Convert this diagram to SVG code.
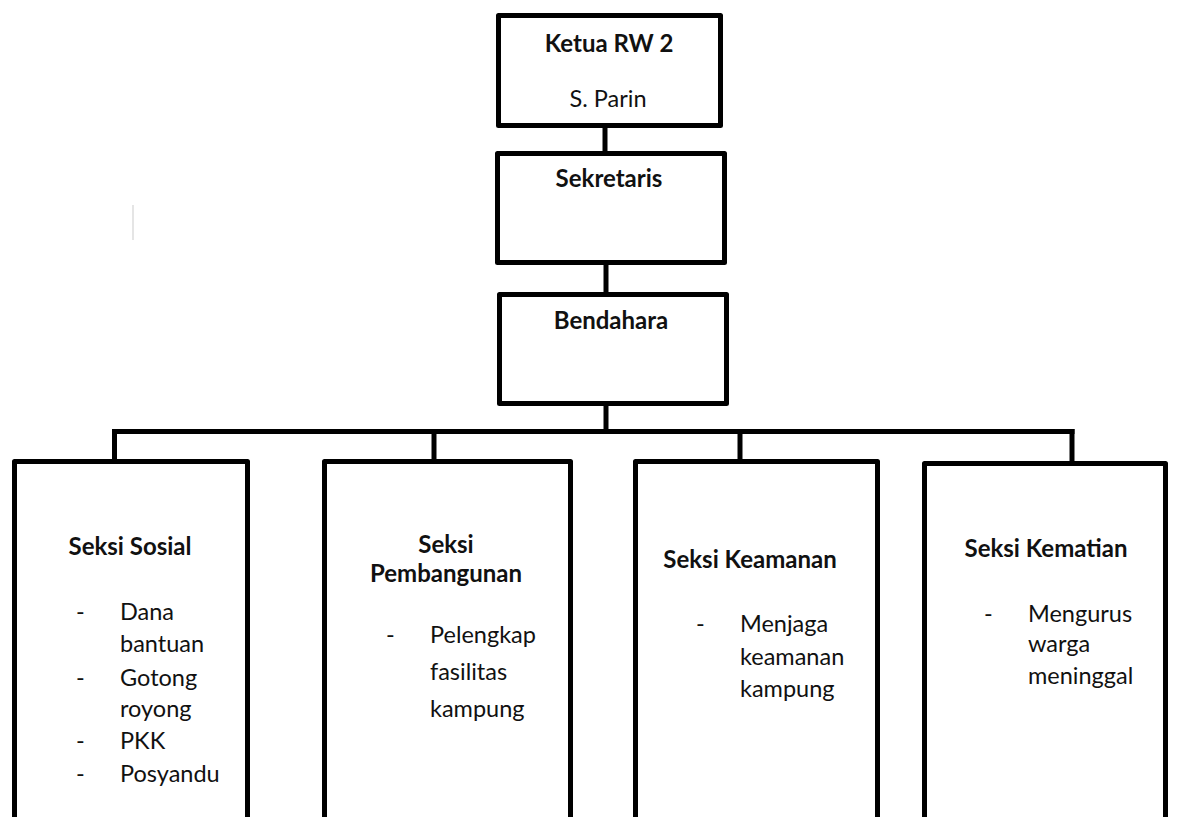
<svg xmlns="http://www.w3.org/2000/svg" width="1178" height="817" viewBox="0 0 1178 817">
<style>
.box{fill:#fff;stroke:#000;stroke-width:5;stroke-linejoin:round}
.con{stroke:#000;stroke-width:5;fill:none;stroke-linecap:square}
.h{font-family:Lato,"Open Sans",sans-serif;font-weight:bold;font-size:24px;fill:#111;text-anchor:middle}
.t{font-family:Lato,"Open Sans",sans-serif;font-size:23.5px;fill:#111}
.c{text-anchor:middle}
</style>
<rect width="1178" height="817" fill="#fff"/>
<line x1="133" y1="205" x2="133" y2="240" stroke="#ddd" stroke-width="1.5"/>
<g id="connectors">
<line class="con" x1="605" y1="128" x2="605" y2="151"/>
<line class="con" x1="606" y1="265" x2="606" y2="292"/>
<line class="con" x1="606" y1="406" x2="606" y2="431"/>
<line class="con" x1="114.5" y1="431.5" x2="1072" y2="431.5"/>
<line class="con" x1="114.5" y1="431.5" x2="114.5" y2="459"/>
<line class="con" x1="434" y1="431.5" x2="434" y2="459"/>
<line class="con" x1="740" y1="431.5" x2="740" y2="459"/>
<line class="con" x1="1072" y1="431.5" x2="1072" y2="461"/>
</g>
<g id="ketua">
<rect class="box" x="498.5" y="15.5" width="222" height="110"/>
<text class="h" x="609" y="52">Ketua RW 2</text>
<text class="t c" x="608" y="107">S. Parin</text>
</g>
<g id="sekretaris">
<rect class="box" x="497.5" y="153.5" width="227" height="109"/>
<text class="h" x="609" y="187">Sekretaris</text>
</g>
<g id="bendahara">
<rect class="box" x="499.5" y="294.5" width="227" height="109"/>
<text class="h" x="611" y="329">Bendahara</text>
</g>
<g id="seksi-sosial">
<rect class="box" x="14.5" y="461.5" width="233" height="400"/>
<text class="h" x="130" y="555">Seksi Sosial</text>
<text class="t" x="76" y="620">-</text><text class="t" x="120" y="620">Dana</text>
<text class="t" x="120" y="652">bantuan</text>
<text class="t" x="76" y="686">-</text><text class="t" x="120" y="686">Gotong</text>
<text class="t" x="120" y="717">royong</text>
<text class="t" x="76" y="749">-</text><text class="t" x="120" y="749">PKK</text>
<text class="t" x="76" y="782">-</text><text class="t" x="120" y="782">Posyandu</text>
</g>
<g id="seksi-pembangunan">
<rect class="box" x="324.5" y="461.5" width="246" height="400"/>
<text class="h" x="446" y="553">Seksi</text>
<text class="h" x="446" y="582">Pembangunan</text>
<text class="t" x="386" y="643">-</text><text class="t" x="430" y="643">Pelengkap</text>
<text class="t" x="430" y="680">fasilitas</text>
<text class="t" x="430" y="717">kampung</text>
</g>
<g id="seksi-keamanan">
<rect class="box" x="635.5" y="461.5" width="242" height="400"/>
<text class="h" x="750" y="568">Seksi Keamanan</text>
<text class="t" x="696" y="632">-</text><text class="t" x="740" y="632">Menjaga</text>
<text class="t" x="740" y="665">keamanan</text>
<text class="t" x="740" y="697">kampung</text>
</g>
<g id="seksi-kematian">
<rect class="box" x="924.5" y="463.5" width="241" height="400"/>
<text class="h" x="1046" y="557">Seksi Kematian</text>
<text class="t" x="984" y="622">-</text><text class="t" x="1028" y="622">Mengurus</text>
<text class="t" x="1028" y="652">warga</text>
<text class="t" x="1028" y="684">meninggal</text>
</g>
</svg>
